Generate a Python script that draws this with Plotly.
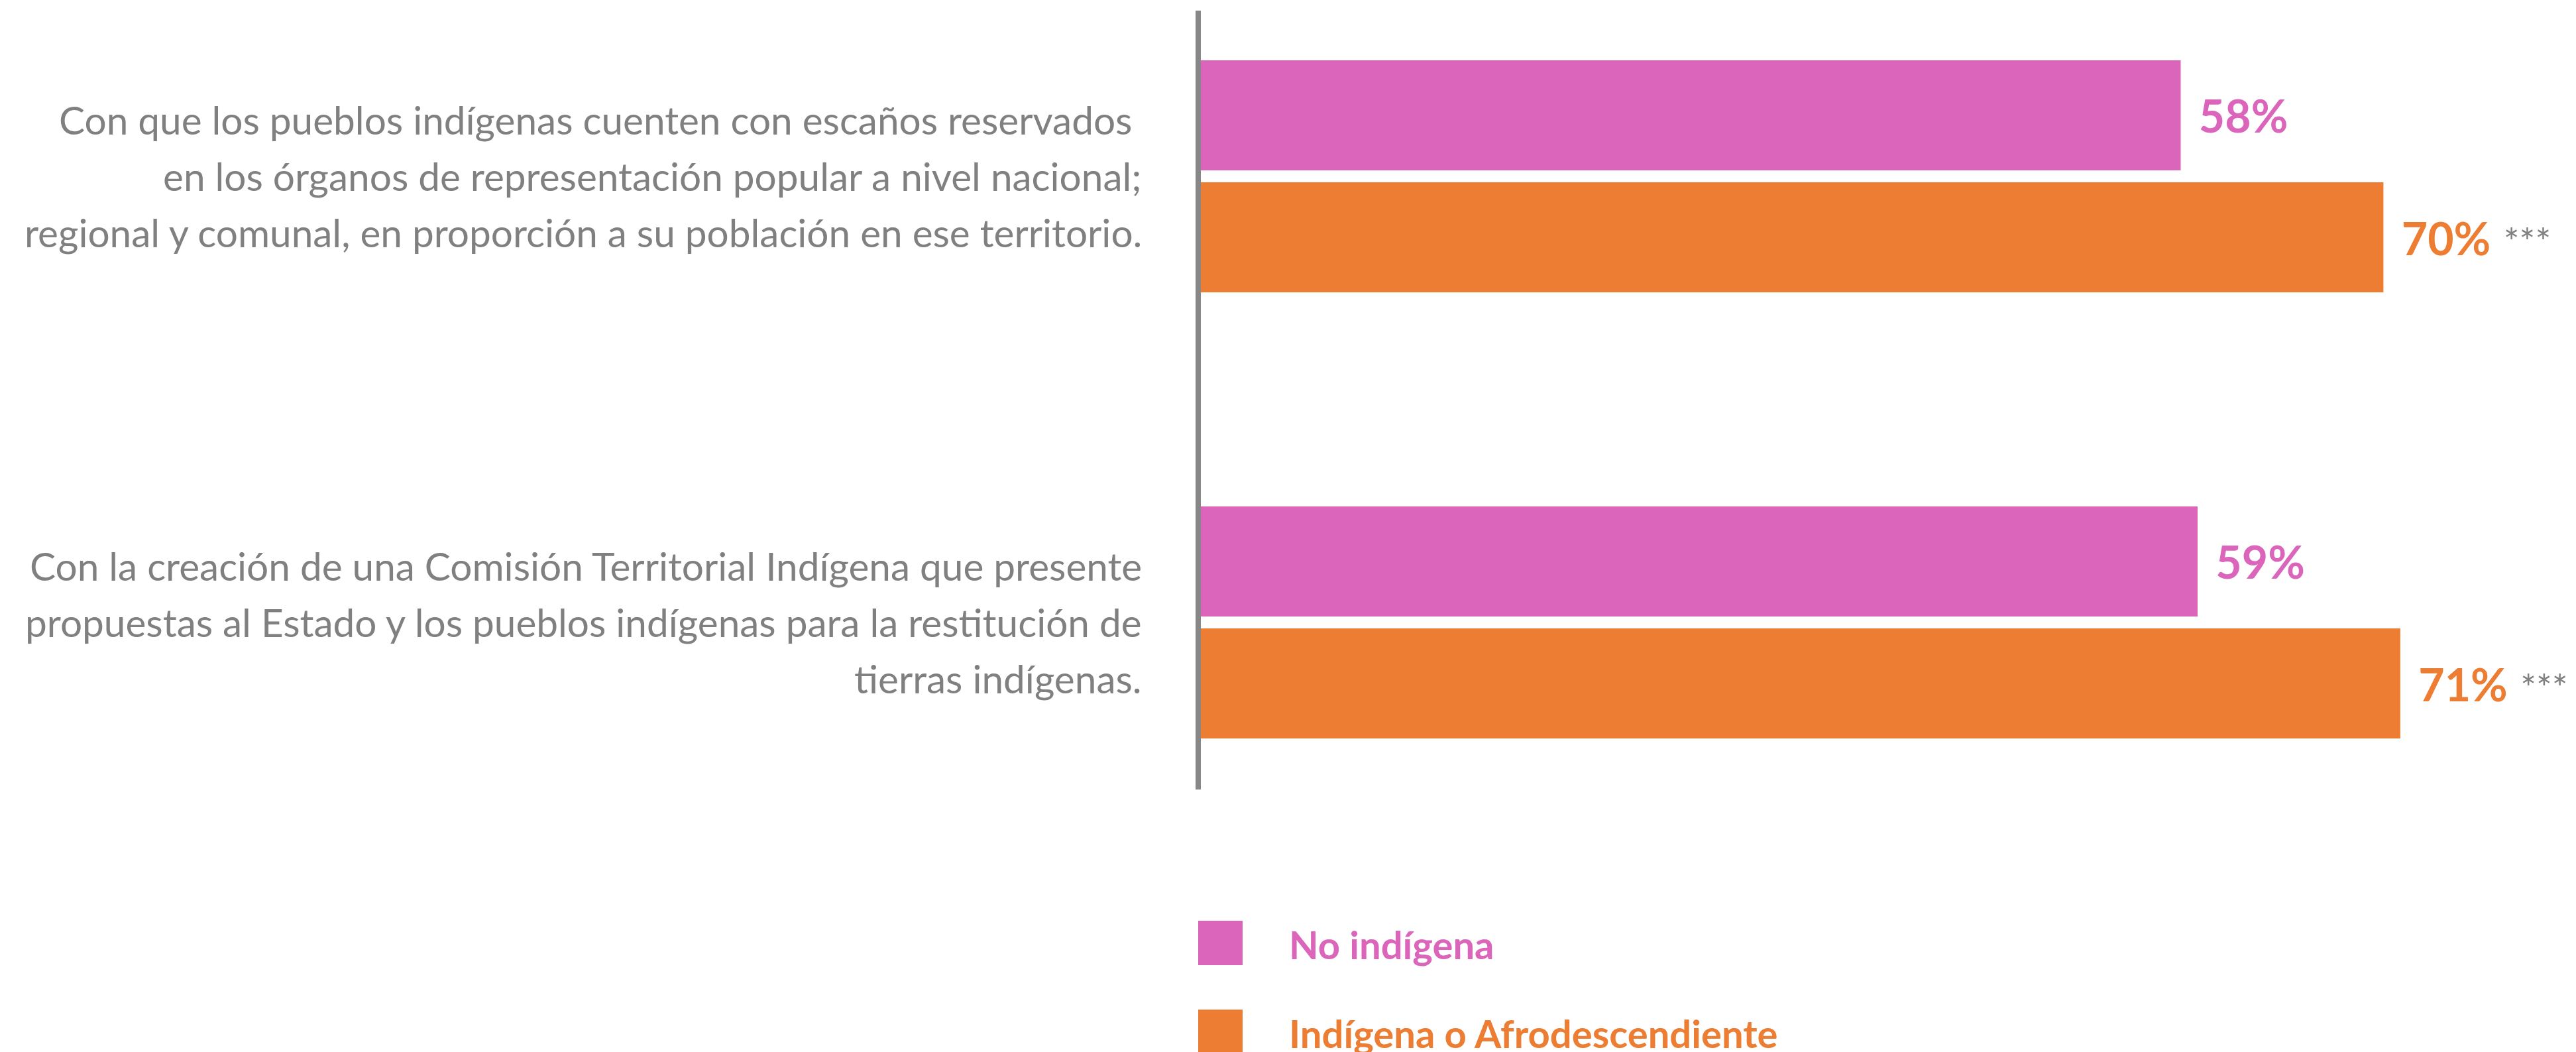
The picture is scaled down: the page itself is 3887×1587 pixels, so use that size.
import plotly.graph_objects as go

# ---------------- data ----------------
categories = [
    "Con que los pueblos indígenas cuenten con escaños reservados <br>"
    "en los órganos de representación popular a nivel nacional;<br>"
    "regional y comunal, en proporción a su población en ese territorio.",
    "Con la creación de una Comisión Territorial Indígena que presente<br>"
    "propuestas al Estado y los pueblos indígenas para la restitución de<br>"
    "tierras indígenas.",
]
series_names = ["No indígena", "Indígena o Afrodescendiente"]
no_indigena = [58, 59]
indigena_afro = [70, 71]
sig_no_indigena = ["", ""]
sig_indigena_afro = ["***", "***"]

# ---------------- style ----------------
PINK = "#DB65BA"
ORANGE = "#EC7D32"
GRAY = "#808080"
AXIS_GRAY = "#878787"
FONT = "Lato"
W, H = 3887, 1587
OFF = 8  # page body margin offset
ML, MT, MB, MR = 1812 - OFF, 16 - OFF, 1587 - 1191 + OFF, OFF
PLOT_H = H - MT - MB

fig = go.Figure()
for name, vals, sig, color in zip(
    series_names,
    [no_indigena, indigena_afro],
    [sig_no_indigena, sig_indigena_afro],
    [PINK, ORANGE],
):
    fig.add_trace(go.Bar(
        name=name,
        y=categories,
        x=vals,
        orientation="h",
        marker=dict(color=color, line=dict(width=0)),
        customdata=sig,
        texttemplate="<span style='font-size:50px'>\u00a0\u00a0</span>%{x}%"
                     "<span style='font-size:40px'>\u00a0\u00a0</span>"
                     "<span style='color:" + GRAY +
                     ";font-weight:normal;font-size:56px'>%{customdata}</span>",
        textposition="outside",
        constraintext="none",
        cliponaxis=False,
        textfont=dict(family=FONT, size=68, color=color, weight="bold"),
        hoverinfo="skip",
        showlegend=False,
    ))

annotations = []
# category labels (right-aligned, one annotation per line)
for i, cat in enumerate(categories):
    lines = cat.split("<br>")
    n = len(lines)
    for j, line in enumerate(lines):
        if line.endswith(" "):
            line = line[:-1] + "\u00a0"
        annotations.append(dict(
            xref="paper", x=0, xanchor="right", xshift=-87,
            yref="y", y=i, yanchor="middle", yshift=85 * ((n - 1) / 2 - j) + 1,
            text=line, showarrow=False,
            font=dict(family=FONT, size=58.5, color=GRAY),
        ))

# custom legend (large square swatches)
shapes = []
legend_centers_px = [1422.5 - OFF, 1556.5 - OFF]
for name, color, cy in zip(series_names, [PINK, ORANGE], legend_centers_px):
    py = (MT + PLOT_H - cy) / PLOT_H
    shapes.append(dict(
        type="rect", xref="paper", yref="paper",
        xsizemode="pixel", ysizemode="pixel",
        xanchor=0, yanchor=py,
        x0=-4, x1=63, y0=-33.5, y1=33.5,
        fillcolor=color, line=dict(width=0),
    ))
    annotations.append(dict(
        xref="paper", x=0, xanchor="left", xshift=131,
        yref="paper", y=py, yanchor="middle", yshift=-2,
        text=name, showarrow=False,
        font=dict(family=FONT, size=58, color=color, weight="bold"),
    ))

fig.update_layout(
    width=W, height=H,
    margin=dict(l=ML, r=MR, t=MT, b=MB, pad=0),
    paper_bgcolor="white", plot_bgcolor="white",
    barmode="group", bargap=0.453, bargroupgap=0.098,
    showlegend=False,
    xaxis=dict(range=[0, 81.4], visible=False, showgrid=False, zeroline=False),
    yaxis=dict(
        type="category", range=[1.3744, -0.3715],
        showline=True, linecolor=AXIS_GRAY, linewidth=8,
        showticklabels=False, ticks="", showgrid=False, zeroline=False,
    ),
    annotations=annotations,
    shapes=shapes,
    font=dict(family=FONT, color=GRAY),
)

fig.write_html("out.html")
